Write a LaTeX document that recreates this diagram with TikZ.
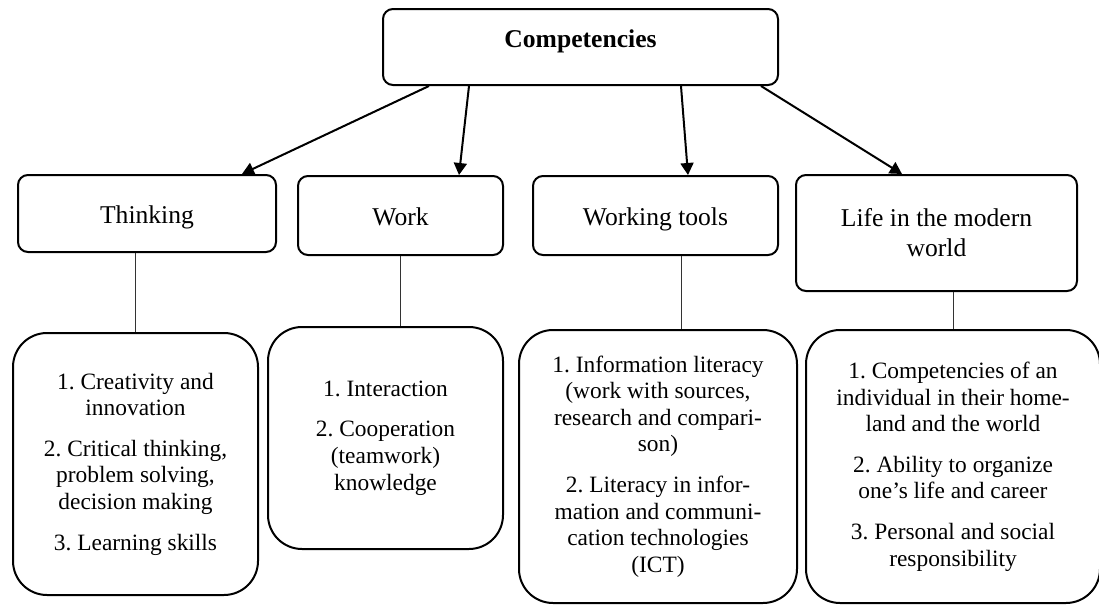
\documentclass[tikz,border=0pt]{standalone}
\usepackage{fontspec}
\setmainfont{Liberation Serif}
\frenchspacing
\usetikzlibrary{calc}
\usetikzlibrary{arrows.meta}
\tikzstyle{head} = [rectangle, draw, line width=1pt, rounded corners=5pt,
    minimum width=197.5pt, minimum height=38pt, text height=9pt, text depth=9pt,
    font=\fontsize{12.8}{15}\selectfont\bfseries]
\tikzstyle{group} = [rectangle, draw, line width=1pt, rounded corners=5pt,
    align=center, font=\fontsize{12.8}{15}\selectfont]
\tikzstyle{single} = [text height=9.5pt, text depth=0pt]
\tikzstyle{items} = [rectangle, draw, line width=1pt, rounded corners=17pt,
    align=center, font=\fontsize{11.7}{13.3}\selectfont]
\tikzstyle{line} = [draw, line width=1pt, -{Triangle[length=6pt,width=6.5pt]}]
\tikzstyle{link} = [draw, line width=0.5pt, black!80]

\begin{document}
\begin{tikzpicture}[x=0.5pt, y=-0.5pt]
    \useasboundingbox (0,0) rectangle (1099,605);
    % Place nodes
    \node[head] (comp) at (580.5,47) {Competencies};
    \node[group, single, minimum width=129pt, minimum height=38.5pt] (think) at (147,213.5) {Thinking};
    \node[group, single, minimum width=102.5pt, minimum height=39.5pt] (work) at (400.5,215.5) {Work};
    \node[group, single, minimum width=122.5pt, minimum height=39.5pt] (tools) at (655.5,215.5) {Working tools};
    \node[group, minimum width=140.5pt, minimum height=58pt] (life) at (936.5,233) {Life in the modern\\ world};
    \node[items, minimum width=122.5pt, minimum height=131pt] (thinkitems) at (135.5,464)
        {1. Creativity and\\ innovation\\[7pt]
         2. Critical thinking,\\ problem solving,\\ decision making\\[7pt]
         3. Learning skills};
    \node[items, minimum width=117.5pt, minimum height=111pt] (workitems) at (385.5,438)
        {1. Interaction\\[7pt]
         2. Cooperation\\ (teamwork)\\ knowledge};
    \node[items, minimum width=139pt, minimum height=136.5pt] (toolitems) at (658,466.5)
        {1. Information literacy\\ (work with sources,\\ research and compari-\\ son)\\[7pt]
         2. Literacy in infor-\\ mation and communi-\\ cation technologies\\ (ICT)};
    \node[items, minimum width=147pt, minimum height=136.5pt] (lifeitems) at (953,466.5)
        {1. Competencies of an\\ individual in their home-\\ land and the world\\[7pt]
         2. Ability to organize\\ one’s life and career\\[7pt]
         3. Personal and social\\ responsibility};
    \coordinate (toolsjoin) at ($(tools.south)+(25.5,0)$);
    % Draw edges
    \path [line] ($(comp.south)+(-151.5,0)$) -- ($(think.north)+(95,0)$);
    \path [line] ($(comp.south)+(-111.5,0)$) -- ($(work.north)+(58.5,0)$);
    \path [line] ($(comp.south)+(100.5,0)$) -- ($(tools.north)+(32.5,0)$);
    \path [line] ($(comp.south)+(180.5,0)$) -- ($(life.north)+(-34.5,0)$);
    \path [link] (think.south -| thinkitems.north) -- (thinkitems.north);
    \path [link] (work.south) -- (work.south |- workitems.north);
    \path [link] (toolsjoin) -- (toolsjoin |- toolitems.north);
    \path [link] (lifeitems.north |- life.south) -- (lifeitems.north);
\end{tikzpicture}
\end{document}
